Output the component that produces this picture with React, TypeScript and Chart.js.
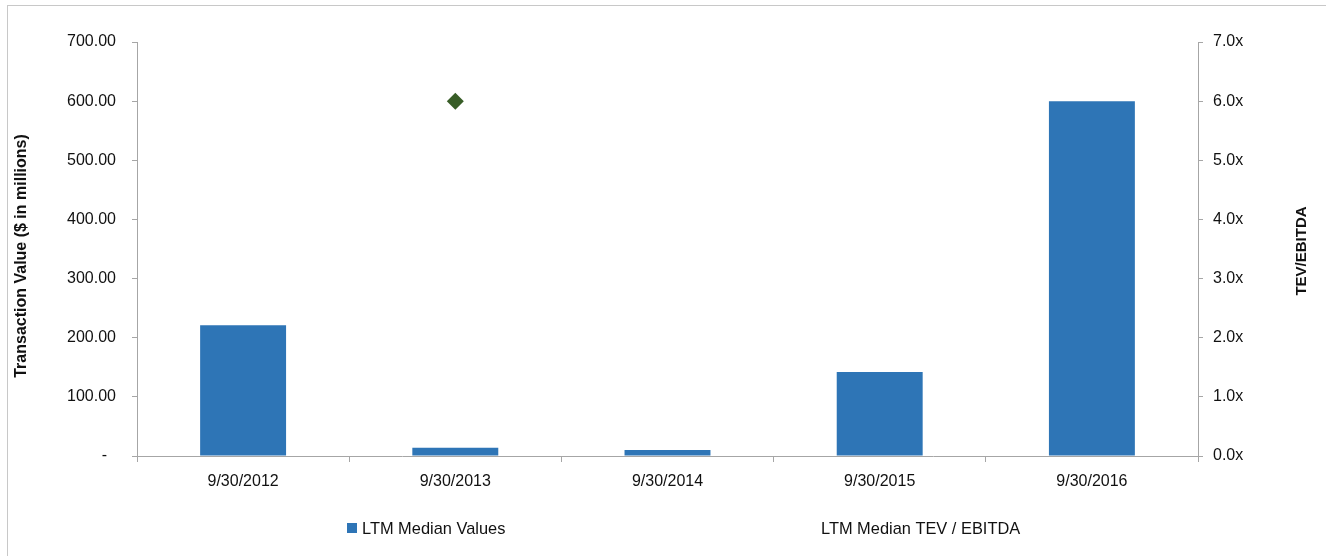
import React, { useEffect, useRef } from "react";
import { Chart, registerables } from "chart.js";

Chart.register(...registerables);

const categories = ["9/30/2012", "9/30/2013", "9/30/2014", "9/30/2015", "9/30/2016"];
const medianValues = [221, 14, 10, 142, 600];
const tevEbitda: (number | null)[] = [null, 6.0, null, null, null];
const seriesNames = ["LTM Median Values", "LTM Median TEV / EBITDA"];
const leftTitle = "Transaction Value ($ in millions)";
const rightTitle = "TEV/EBITDA";

const FONT = '"Liberation Sans", Arial, sans-serif';
const FONT_SIZE = 16;
const BAR_COLOR = "#2E75B6";
const DIAMOND_COLOR = "#385D27";
const AXIS_COLOR = "#A6A6A6";
const TEXT_COLOR = "#111111";

const overlayPlugin = {
  id: "overlay",
  afterDraw(chart: any) {
    const ctx = chart.ctx;
    ctx.save();
    ctx.fillStyle = TEXT_COLOR;
    ctx.textBaseline = "middle";
    ctx.textAlign = "center";
    ctx.font = `bold 16px ${FONT}`;
    ctx.save();
    ctx.translate(22, 256);
    ctx.rotate(-Math.PI / 2);
    ctx.fillText(leftTitle, 0, 0);
    ctx.restore();
    ctx.font = `bold 15px ${FONT}`;
    ctx.save();
    ctx.translate(1302, 251);
    ctx.rotate(-Math.PI / 2);
    ctx.fillText(rightTitle, 0, 0);
    ctx.restore();
    // legend
    ctx.font = `16.4px ${FONT}`;
    ctx.textAlign = "left";
    ctx.fillStyle = BAR_COLOR;
    ctx.fillRect(347, 523, 10, 10);
    ctx.fillStyle = TEXT_COLOR;
    ctx.fillText(seriesNames[0], 362, 529);
    ctx.fillText(seriesNames[1], 821, 529);
    ctx.restore();
  },
};

export default function App() {
  const ref = useRef<HTMLCanvasElement>(null);
  useEffect(() => {
    document.body.style.margin = "0";
    const tickFont = { family: FONT, size: FONT_SIZE };
    const chart = new Chart(ref.current!, {
      type: "bar",
      data: {
        labels: categories,
        datasets: [
          {
            type: "bar",
            label: seriesNames[0],
            data: medianValues,
            backgroundColor: BAR_COLOR,
            borderWidth: 0,
            categoryPercentage: 1,
            barPercentage: 0.405,
            yAxisID: "y",
            order: 2,
          },
          {
            type: "line",
            label: seriesNames[1],
            data: tevEbitda,
            showLine: false,
            pointStyle: "rectRot",
            pointRadius: 8.5,
            pointBackgroundColor: DIAMOND_COLOR,
            pointBorderColor: DIAMOND_COLOR,
            pointBorderWidth: 0,
            yAxisID: "y1",
            order: 1,
          } as any,
        ],
      },
      options: {
        responsive: false,
        animation: false,
        layout: { padding: { top: 42, left: 0, right: 0, bottom: 0 } },
        plugins: {
          legend: { display: false },
          tooltip: { enabled: false },
        },
        scales: {
          x: {
            offset: true,
            grid: {
              offset: true,
              drawOnChartArea: false,
              drawTicks: true,
              tickLength: 6,
              color: AXIS_COLOR,
            },
            border: { display: true, color: AXIS_COLOR },
            ticks: {
              color: TEXT_COLOR,
              font: tickFont,
              padding: 10,
              maxRotation: 0,
            },
            afterFit: (s: any) => {
              s.height = 100;
            },
          },
          y: {
            position: "left",
            min: 0,
            max: 700,
            grid: {
              drawOnChartArea: false,
              drawTicks: true,
              tickLength: 5,
              color: AXIS_COLOR,
            },
            border: { display: true, color: AXIS_COLOR },
            ticks: {
              stepSize: 100,
              color: TEXT_COLOR,
              font: tickFont,
              padding: 16,
              callback: (v: any) => (Number(v) === 0 ? "-  " : Number(v).toFixed(2)),
            },
            afterFit: (s: any) => {
              s.width = 137;
            },
          },
          y1: {
            position: "right",
            min: 0,
            max: 7,
            grid: {
              drawOnChartArea: false,
              drawTicks: true,
              tickLength: 5,
              color: AXIS_COLOR,
            },
            border: { display: true, color: AXIS_COLOR },
            ticks: {
              stepSize: 1,
              color: TEXT_COLOR,
              font: tickFont,
              padding: 10,
              callback: (v: any) => Number(v).toFixed(1) + "x",
            },
            afterFit: (s: any) => {
              s.width = 128;
            },
          },
        },
      },
      plugins: [overlayPlugin],
    });
    return () => chart.destroy();
  }, []);

  return (
    <div style={{ position: "fixed", left: 0, top: 0, width: 1326, height: 556, overflow: "hidden", background: "#fff" }}>
      <div
        style={{
          position: "absolute",
          left: 7,
          top: 5,
          width: 1400,
          height: 600,
          border: "1px solid #C8C8C8",
          boxSizing: "border-box",
        }}
      />
      <canvas
        ref={ref}
        width={1326}
        height={556}
        style={{ position: "absolute", left: 0, top: 0, display: "block" }}
      />
    </div>
  );
}
